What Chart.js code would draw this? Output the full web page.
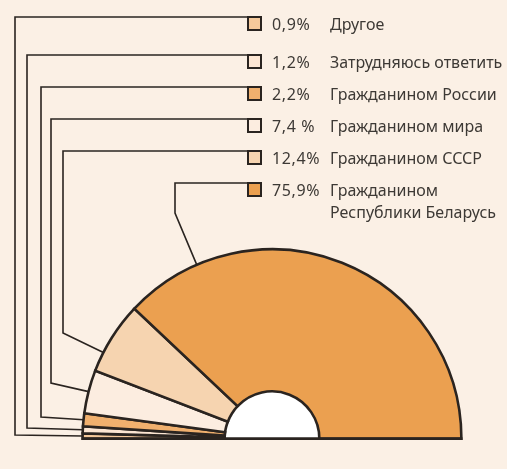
<!DOCTYPE html>
<html lang="ru">
<head>
<meta charset="UTF-8">
<title>Half doughnut</title>
<script src="https://cdn.jsdelivr.net/npm/chart.js"></script>
<style>
  html, body { margin: 0; padding: 0; }
  body { width: 507px; height: 469px; background: #fbf0e5; position: relative; overflow: hidden;
         font-family: 'Noto Sans', sans-serif; color: #3d3935; }
  #wrap { position: absolute; left: 0; top: 0; width: 507px; height: 469px; }
  .row { position: absolute; left: 247px; font-size: 16px; line-height: 22px; }
  .sq { position: absolute; left: 0; top: 0; width: 11px; height: 11px; border: 2px solid #2a2420; }
  .pct { position: absolute; left: 25px; top: -3px; white-space: nowrap; letter-spacing: 0.6px; }
  .lab { position: absolute; left: 83px; top: -3px; white-space: pre; }
</style>
</head>
<body>
<div id="wrap"><canvas id="chart" width="507" height="469"></canvas></div>
<div id="legend"></div>
<script>
  const labels = ['Другое', 'Затрудняюсь ответить', 'Гражданином России', 'Гражданином мира', 'Гражданином СССР', 'Гражданином\nРеспублики Беларусь'];
  const values = [0.9, 1.2, 2.2, 7.4, 12.4, 75.9];
  const valueLabels = ['0,9%', '1,2%', '2,2%', '7,4 %', '12,4%', '75,9%'];
  const colors = ['#f5c99b', '#fce6d3', '#f0b06e', '#fcede0', '#f6d4b0', '#eba050'];

  // legend layout (square tops) and leader line routing
  const rowTop = [16, 54, 86, 118, 150, 182];
  const leadX = [15, 27, 41, 51, 63, 175];
  const bendY = [435, 428, 417, 383, 333, 213];
  const attachFrac = [0.5, 0.5, 0.5, 0.5, 0.27, 0.17];
  const squareX = 247;

  const legend = document.getElementById('legend');
  labels.forEach((l, i) => {
    const row = document.createElement('div');
    row.className = 'row';
    row.style.top = rowTop[i] + 'px';
    row.innerHTML = '<div class="sq" style="background:' + colors[i] + '"></div>' +
      '<div class="pct">' + valueLabels[i] + '</div><div class="lab"></div>';
    row.querySelector('.lab').textContent = l;
    legend.appendChild(row);
  });

  const extras = {
    id: 'extras',
    beforeDatasetsDraw(chart) {
      const arc = chart.getDatasetMeta(0).data[0];
      const ctx = chart.ctx;
      ctx.save();
      ctx.fillStyle = '#ffffff';
      ctx.beginPath();
      ctx.arc(arc.x, arc.y, arc.innerRadius, Math.PI, 2 * Math.PI);
      ctx.closePath();
      ctx.fill();
      ctx.restore();
    },
    afterDatasetsDraw(chart) {
      const arcs = chart.getDatasetMeta(0).data;
      const ctx = chart.ctx;
      const a0 = arcs[0];
      ctx.save();
      ctx.strokeStyle = '#2a2420';
      ctx.lineWidth = 2.8;
      ctx.beginPath();
      ctx.moveTo(a0.x - a0.outerRadius - 1, a0.y);
      ctx.lineTo(a0.x + a0.outerRadius + 1, a0.y);
      ctx.stroke();

      ctx.lineWidth = 1.6;
      arcs.forEach((a, i) => {
        const ang = a.startAngle + (a.endAngle - a.startAngle) * attachFrac[i];
        const px = a.x + Math.cos(ang) * a.outerRadius;
        const py = a.y + Math.sin(ang) * a.outerRadius;
        const ly = rowTop[i] + 1;
        ctx.beginPath();
        ctx.moveTo(squareX, ly);
        ctx.lineTo(leadX[i], ly);
        ctx.lineTo(leadX[i], bendY[i]);
        ctx.lineTo(px, py);
        ctx.stroke();
      });
      ctx.restore();
    }
  };

  new Chart(document.getElementById('chart'), {
    type: 'doughnut',
    data: {
      labels: labels,
      datasets: [{
        data: values,
        backgroundColor: colors,
        borderColor: '#2a2420',
        borderWidth: 2.6,
        borderJoinStyle: 'miter'
      }]
    },
    options: {
      responsive: false,
      animation: false,
      rotation: -90,
      circumference: 180,
      cutout: '25%',
      layout: { padding: { left: 81, right: 44, top: 248, bottom: 29 } },
      plugins: { legend: { display: false }, tooltip: { enabled: false } }
    },
    plugins: [extras]
  });
</script>
</body>
</html>
